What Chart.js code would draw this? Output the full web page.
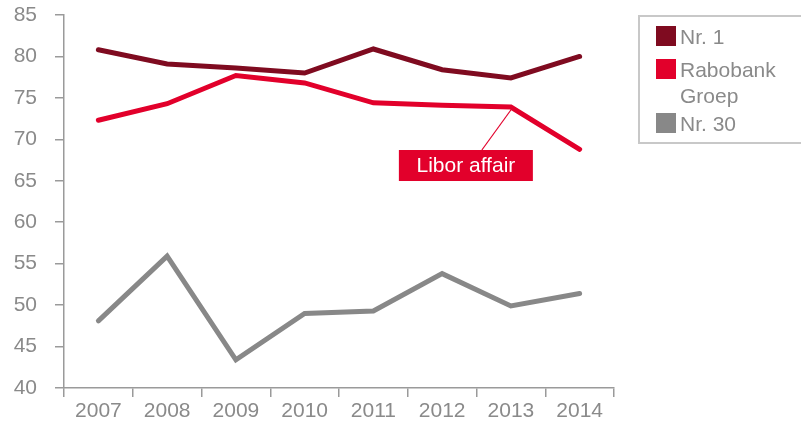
<!DOCTYPE html>
<html>
<head>
<meta charset="utf-8">
<script src="https://cdn.jsdelivr.net/npm/chart.js@4.4.1/dist/chart.umd.min.js"></script>
<style>
  html, body { margin: 0; padding: 0; background: #fff; }
  #wrap { width: 801px; height: 423px; }
</style>
</head>
<body>
<div id="wrap"><canvas id="chart" width="801" height="423"></canvas></div>
<script>
// Data
const years = ['2007', '2008', '2009', '2010', '2011', '2012', '2013', '2014'];
const nr1 = [80.8, 79.1, 78.6, 78.0, 80.9, 78.4, 77.4, 80.0];
const rabobank = [72.3, 74.3, 77.7, 76.8, 74.4, 74.1, 73.9, 68.8];
const nr30 = [48.1, 55.9, 43.4, 49.0, 49.3, 53.8, 49.9, 51.4];
const seriesNames = ['Nr. 1', 'Rabobank Groep', 'Nr. 30'];
const seriesColors = ['#7f0b20', '#e2002b', '#888888'];
const yMin = 40, yMax = 85, yStep = 5;
const noteText = 'Libor affair';
const noteYear = '2013';

const FONT = '"Liberation Sans", Arial, Helvetica, sans-serif';
const GREY = '#8a8a8a';
const AXIS = '#9a9a9a';

// Callout + legend drawn on the canvas
const extras = {
    id: 'extras',
    afterDraw(chart) {
        const ctx = chart.ctx;
        const x = chart.scales.x, y = chart.scales.y;
        const i = years.indexOf(noteYear);
        const px = x.getPixelForValue(i);
        const py = y.getPixelForValue(rabobank[i]);

        // leader line + label box
        const bx = px - 112, by = py + 43, bw = 134, bh = 31;
        ctx.save();
        ctx.strokeStyle = seriesColors[1];
        ctx.lineWidth = 1.2;
        ctx.beginPath();
        ctx.moveTo(px, py + 3);
        ctx.lineTo(px - 29, by);
        ctx.stroke();
        ctx.fillStyle = seriesColors[1];
        ctx.fillRect(bx, by, bw, bh);
        ctx.fillStyle = '#fff';
        ctx.font = '21px ' + FONT;
        ctx.textAlign = 'center';
        ctx.textBaseline = 'middle';
        ctx.fillText(noteText, bx + bw / 2, by + bh / 2 + 1);

        // legend
        ctx.strokeStyle = '#c8c8c8';
        ctx.lineWidth = 2;
        ctx.strokeRect(639, 16, 230, 127);
        ctx.textAlign = 'left';
        ctx.textBaseline = 'alphabetic';
        let ly = 26;
        seriesNames.forEach((name, k) => {
            ctx.fillStyle = seriesColors[k];
            ctx.fillRect(656, ly, 20, 20);
            ctx.fillStyle = GREY;
            const words = name.split(' ');
            let lines = [], cur = '';
            words.forEach(w => {
                const t = cur ? cur + ' ' + w : w;
                if (ctx.measureText(t).width > 110 && cur) { lines.push(cur); cur = w; }
                else cur = t;
            });
            lines.push(cur);
            lines.forEach((l, j) => ctx.fillText(l, 680, ly + 18 + j * 26));
            ly += 33 + (lines.length - 1) * 21;
        });
        ctx.restore();
    }
};

function makeSet(label, data, color) {
    return {
        label, data,
        borderColor: color,
        backgroundColor: color,
        borderWidth: 5,
        borderCapStyle: 'round',
        pointRadius: 0,
        tension: 0,
        fill: false
    };
}

new Chart(document.getElementById('chart'), {
    type: 'line',
    data: {
        labels: years,
        datasets: [
            makeSet(seriesNames[2], nr30, seriesColors[2]),
            makeSet(seriesNames[0], nr1, seriesColors[0]),
            makeSet(seriesNames[1], rabobank, seriesColors[1])
        ]
    },
    options: {
        responsive: false,
        animation: false,
        layout: { padding: { top: 15, right: 187, left: 0, bottom: 0 } },
        plugins: { legend: { display: false }, tooltip: { enabled: false } },
        scales: {
            x: {
                offset: true,
                grid: { drawOnChartArea: false, offset: true, tickLength: 9, color: AXIS, lineWidth: 1.5 },
                border: { color: AXIS, width: 1.5 },
                ticks: { color: GREY, font: { size: 21, family: FONT }, padding: 2, maxRotation: 0 },
                afterFit(s) { s.height = 35; s.paddingLeft = 0; s.paddingRight = 0; }
            },
            y: {
                min: yMin, max: yMax,
                grid: { drawOnChartArea: false, tickLength: 9, color: AXIS, lineWidth: 1.5 },
                border: { color: AXIS, width: 1.5 },
                ticks: { stepSize: yStep, color: GREY, font: { size: 21, family: FONT }, padding: 18 },
                afterFit(s) { s.width = 64; s.paddingTop = 0; s.paddingBottom = 0; }
            }
        }
    },
    plugins: [extras]
});
</script>
</body>
</html>
